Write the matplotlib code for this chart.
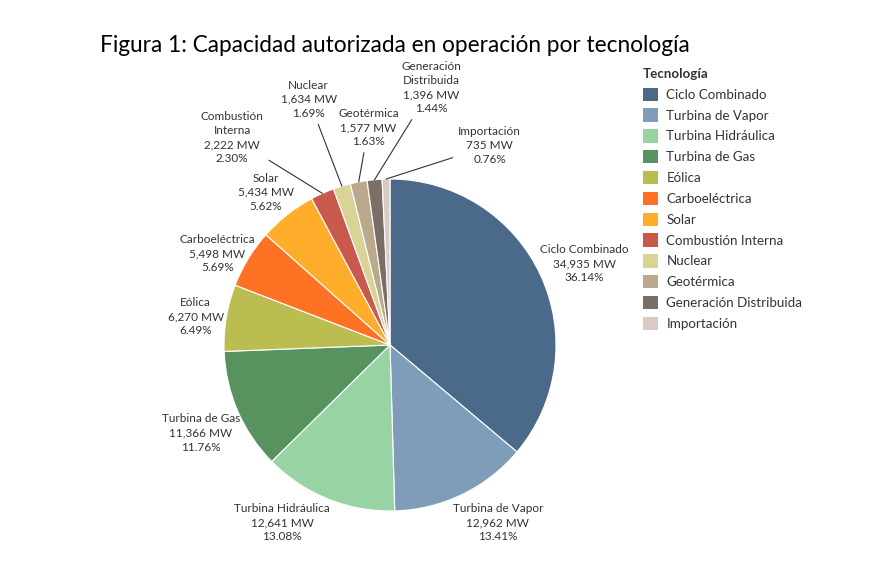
import matplotlib.pyplot as plt
import matplotlib.patches as mpatches
import numpy as np

plt.rcParams['font.family'] = ['Lato', 'DejaVu Sans']

# datos (MW por tecnología)
tecnologias = ['Ciclo Combinado', 'Turbina de Vapor', 'Turbina Hidráulica', 'Turbina de Gas',
               'Eólica', 'Carboeléctrica', 'Solar', 'Combustión Interna', 'Nuclear',
               'Geotérmica', 'Generación Distribuida', 'Importación']
etiquetas = ['Ciclo Combinado', 'Turbina de Vapor', 'Turbina Hidráulica', 'Turbina de Gas',
             'Eólica', 'Carboeléctrica', 'Solar', 'Combustión\nInterna', 'Nuclear',
             'Geotérmica', 'Generación\nDistribuida', 'Importación']
capacidad_mw = [34935, 12962, 12641, 11366, 6270, 5498, 5434, 2222, 1634, 1577, 1396, 735]
colores = ['#4b6a8a', '#7f9db9', '#98d3a4', '#57925f', '#bcbd50', '#ff7123',
           '#ffad2a', '#c9584d', '#d9d396', '#bba98e', '#7b6e66', '#d9cac3']

# posiciones de las etiquetas (radio 1 = borde del pastel)
pos_etiquetas = [(1.17, 0.49), (0.65, -1.07), (-0.65, -1.07), (-1.14, -0.53),
                 (-1.17, 0.17), (-1.04, 0.55), (-0.75, 0.92), (-0.95, 1.25),
                 (-0.49, 1.48), (-0.13, 1.31), (0.25, 1.55), (0.60, 1.20)]
con_linea = [False] * 7 + [True] * 5

W, H = 878, 586
cx, cy, R = 390, 345, 166

fig = plt.figure(figsize=(W / 100, H / 100), dpi=100)
ax = fig.add_axes([0, 0, 1, 1])

wedges, _ = ax.pie(capacidad_mw, colors=colores, startangle=90, counterclock=False,
                   radius=1.0, center=(0, 0),
                   wedgeprops=dict(edgecolor='white', linewidth=0.8))

ax.set_aspect('auto')
ax.set_xlim(-cx / R, (W - cx) / R)
ax.set_ylim(-(H - cy) / R, cy / R)
ax.axis('off')

total = sum(capacidad_mw)
for w, lab, mw, (tx, ty), linea in zip(wedges, etiquetas, capacidad_mw, pos_etiquetas, con_linea):
    pct = 100 * mw / total
    texto = f'{lab}\n{mw:,} MW\n{pct:.2f}%'
    ang = np.deg2rad((w.theta1 + w.theta2) / 2)
    if linea:
        ax.annotate(texto, xy=(np.cos(ang), np.sin(ang)), xytext=(tx, ty),
                    ha='center', va='center', fontsize=8.5, color='#333333', linespacing=1.35,
                    arrowprops=dict(arrowstyle='-', color='#333333', lw=0.8,
                                    shrinkA=2, shrinkB=0))
    else:
        ax.text(tx, ty, texto, ha='center', va='center', fontsize=8.5,
                color='#333333', linespacing=1.35)

fig.text(100 / W, 1 - 45 / H, 'Figura 1: Capacidad autorizada en operación por tecnología',
         fontsize=16.3, color='black', va='center', ha='left')

handles = [mpatches.Patch(facecolor=c, edgecolor='none') for c in colores]
leg = fig.legend(handles, tecnologias, title='Tecnología', loc='upper left',
                 bbox_to_anchor=(643 / W, 1 - 68 / H), frameon=False,
                 fontsize=9.6, title_fontproperties={'weight': 'bold', 'size': 9.6},
                 handlelength=1.15, handleheight=1.15, handletextpad=0.6,
                 labelspacing=0.57, alignment='left', borderaxespad=0, borderpad=0)
for t in leg.get_texts():
    t.set_color('#333333')
leg.get_title().set_color('#333333')

plt.savefig('out.png', dpi=100)
